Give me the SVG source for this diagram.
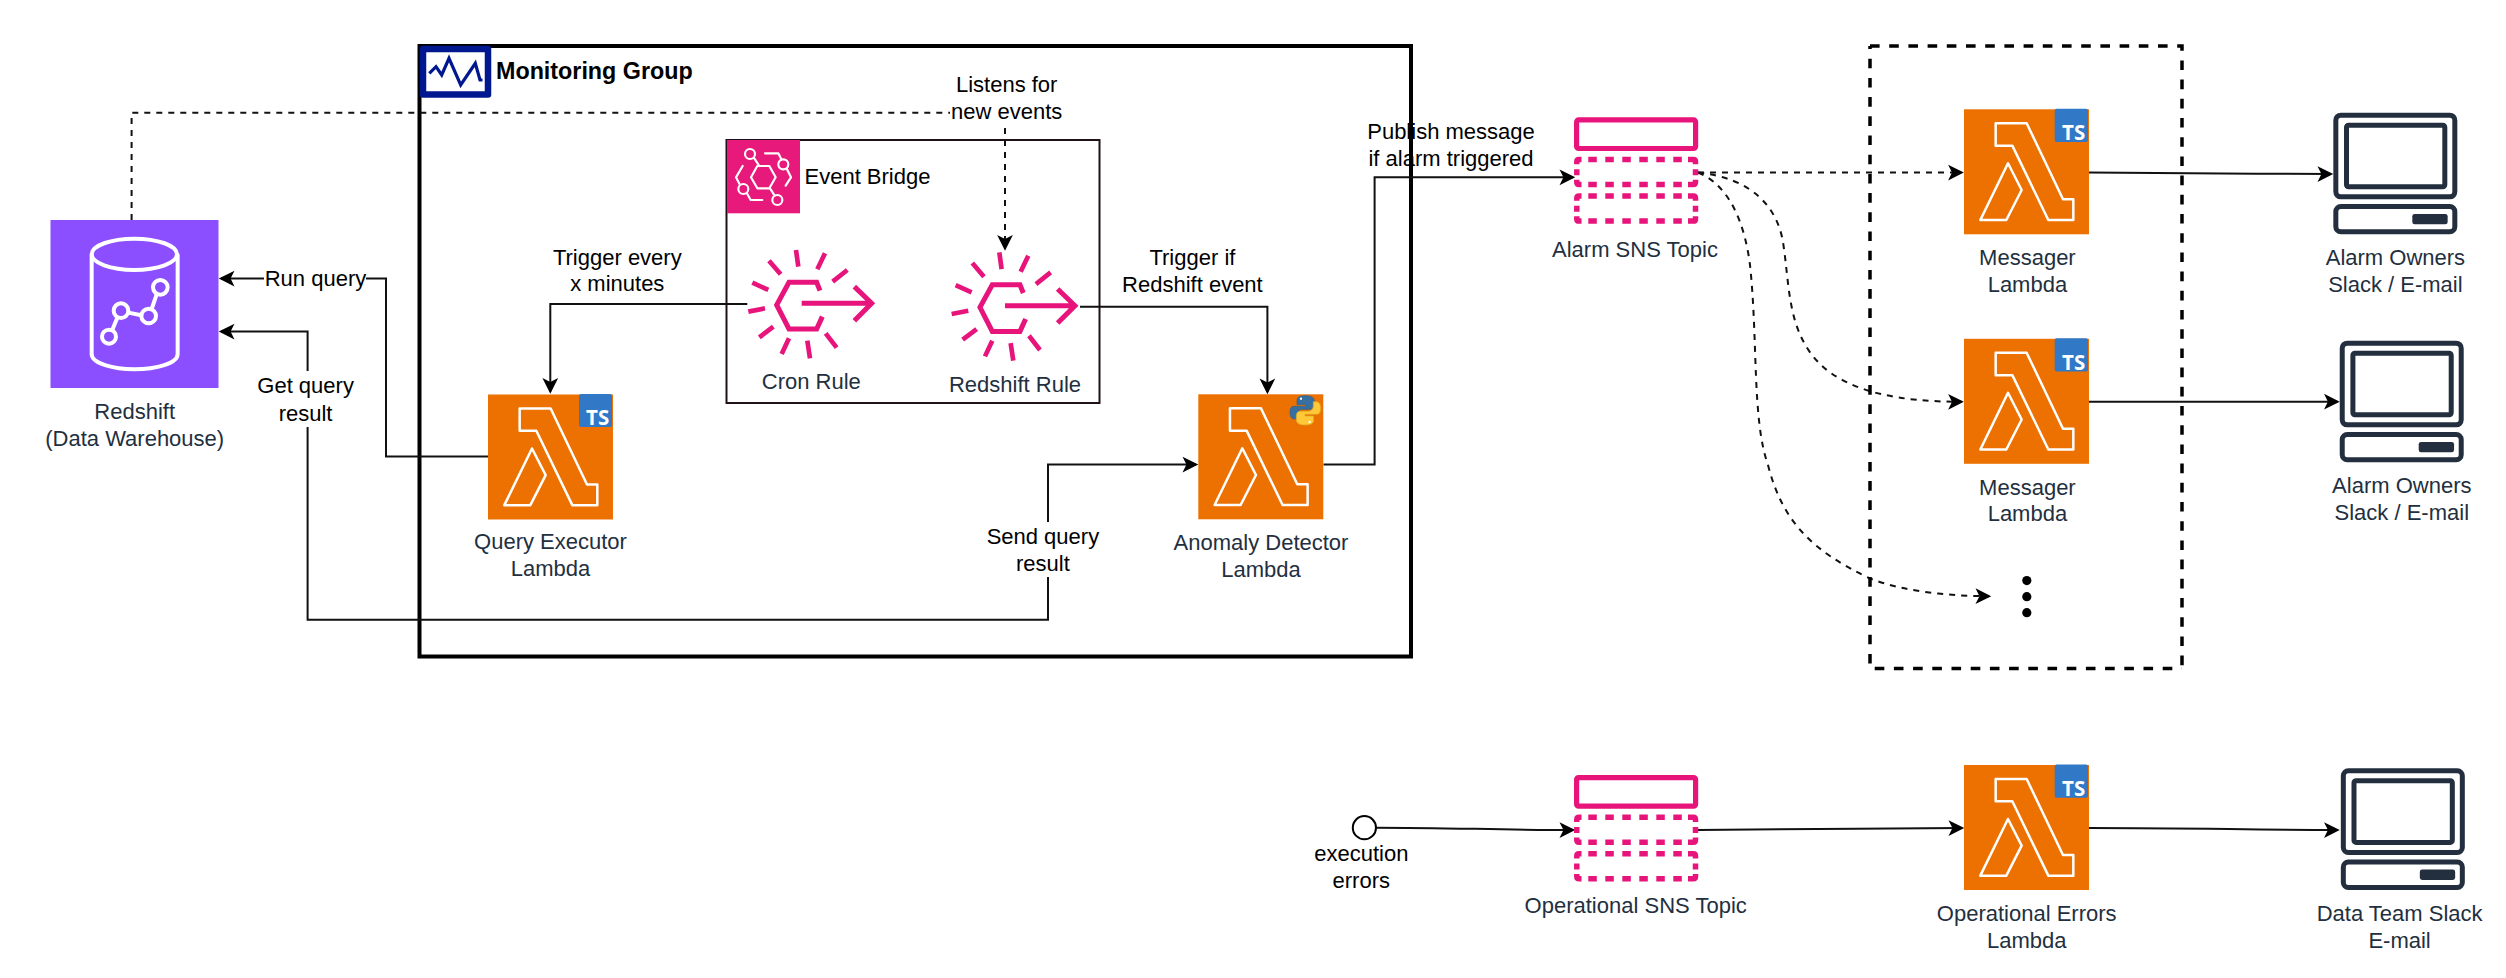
<svg xmlns="http://www.w3.org/2000/svg" xmlns:xlink="http://www.w3.org/1999/xlink" width="2506" height="978" viewBox="0 0 2506 978">
<style>
text{font-family:"Liberation Sans",Arial,sans-serif;font-size:22px;text-anchor:middle;fill:#000}
.n{fill:#232f3e}
.l{text-anchor:start}
.ts{font-family:"Open Sans",sans-serif;font-weight:700;font-size:20.5px;fill:#fff}
.e{fill:none;stroke:#111;stroke-width:2}
.d{stroke-dasharray:6 6}
.a{marker-end:url(#arr)}
.pk{fill:none;stroke:#e7157b}
.wh{fill:none;stroke:#fff;stroke-linejoin:round;stroke-linecap:round}
.dk{fill:none;stroke:#232f3e;stroke-width:15}
.bg{fill:#fff}
.bx{fill:none;stroke:#000;stroke-width:3.5;stroke-dasharray:9.6 9.6}
</style>
<defs>
<marker id="arr" markerUnits="userSpaceOnUse" markerWidth="18" markerHeight="18" viewBox="0 0 16 16" refX="13" refY="8" orient="auto-start-reverse">
<path d="M1 1L15 8L1 15L4.5 8Z" fill="#000"/>
</marker>
<g id="lambda">
<rect width="375" height="375" fill="#ed7100"/>
<path class="wh" stroke-width="7.5" d="M95 42H188L297 270H328V332H253L145 109H95ZM132 162L173 242L127 332H49Z"/>
</g>
<g id="rule" class="pk" stroke-width="14">
<path d="M300 482L290 457H207L170 525L207 597H290L307 560" stroke-width="15"/>
<path d="M245 520H450M403 470L455 520L403 572" stroke-width="15"/>
<path d="M228 360L235 410M315 370L292 418M382 420L338 455M147 392L182 433M97 458L145 480M85 545L135 535M118 622L160 590M207 625L185 672M262 632L270 685M317 610L350 653"/>
</g>
<g id="dashbox" fill="none" stroke="#e7157b" stroke-width="5.5">
<path d="M14.3 2.8H108" stroke-dasharray="8.5 8.5"/>
<path d="M14.3 27.8H108" stroke-dasharray="8.5 8.5"/>
<path d="M2.8 12.5V18.5M121.5 12.5V18.5"/>
<path d="M2.8 7.5V5Q2.8 2.8 5 2.8H7.5M114 2.8H119.3Q121.5 2.8 121.5 5V7.5M2.8 23V25.6Q2.8 27.8 5 27.8H7.5M114 27.8H119.3Q121.5 27.8 121.5 25.6V23"/>
</g>
<g id="topic">
<rect x="2.6" y="2.6" width="119" height="28.6" rx="2" class="pk" stroke-width="5.2"/>
<use href="#dashbox" y="39.4"/>
<use href="#dashbox" y="76"/>
</g>
<g id="computer">
<rect x="77.5" y="45.5" width="357" height="245" rx="15" class="dk"/>
<rect x="109.5" y="75.5" width="295" height="185" rx="6" class="dk"/>
<rect x="77.5" y="319.5" width="357" height="76" rx="15" class="dk"/>
<rect x="307" y="342" width="106" height="31" rx="7" fill="#232f3e"/>
</g>
</defs>
<rect width="2506" height="978" fill="#fff"/>

<g id="monitoring-group">
<rect x="419.5" y="46" width="991.5" height="610.5" fill="none" stroke="#000" stroke-width="4"/>
<rect x="423" y="49" width="65" height="45.5" fill="#fff" stroke="#00188f" stroke-width="6.5" stroke-linejoin="round"/>
<path d="M429.3 73.3L436 66.7L441.7 75L449 58.3L460.7 85L475.3 63.3L480 80H482.5" fill="none" stroke="#00188f" stroke-width="3.2"/>
<text class="l" x="496" y="79" style="font-size:23.3px;font-weight:700">Monitoring Group</text>
</g>

<g id="event-bridge">
<rect x="726.5" y="140" width="373" height="263" fill="none" stroke="#201018" stroke-width="2"/>
<rect x="727" y="140" width="73" height="73.3" fill="#e7197b"/>
<g transform="translate(720 130) scale(.3333)" class="wh" stroke-width="6.5">
<path d="M93 142L112 108H148L167 142L148 175H112ZM103 85L118 108M150 175L164 197M135 70H175L184 88M201 118L213 142L197 167M68 108L48 142L59 163M82 192L92 210H127"/>
<circle cx="90" cy="72" r="15"/><circle cx="190" cy="103" r="15"/><circle cx="70" cy="177" r="15"/><circle cx="172" cy="210" r="15"/>
</g>
<text class="l" x="804.5" y="184">Event Bridge</text>
</g>

<g id="connectors">
<path class="e d a" d="M131.6 220V112.7H1005V248.5"/>
<path class="e a" d="M488 456.5H386V278.5H221"/>
<path class="e a" style="marker-start:url(#arr)" d="M221 331.5H307.6V619.7H1048V464.5H1196"/>
<path class="e a" d="M747.3 304H550.3V391.6"/>
<path class="e a" d="M1080 306.7H1267.4V392"/>
<path class="e a" d="M1323.5 464.5H1374.6V177.3H1573"/>
<path class="e d a" d="M1698 172.6H1961.6"/>
<path class="e d a" d="M1698 172.6C1752 178 1777 207 1783 242C1790 287 1787 332 1821 365C1850 392 1900 402 1961.6 401.7"/>
<path class="e d a" d="M1698 172.6C1730 185 1745 225 1750 265C1758 340 1752 420 1768 465C1782 520 1810 550 1870 578.5C1905 592 1950 596 1989 596.2"/>
<path class="e a" d="M2089 172.6C2200 172.6 2250 174 2331 174"/>
<path class="e a" d="M2089 401.7H2337.5"/>
<path class="e a" d="M1376 827.7C1450 827.7 1500 830 1573 830"/>
<path class="e a" d="M1698 830C1800 830 1870 828 1962 828"/>
<path class="e a" d="M2089 828C2200 828 2250 830 2337.5 830"/>
</g>

<g id="edge-labels">
<rect class="bg" x="264" y="266" width="102" height="27"/>
<text x="315.5" y="286">Run query</text>
<rect class="bg" x="255" y="371" width="102" height="56"/>
<text x="305.6" y="393.4">Get query</text><text x="305.6" y="420.7">result</text>
<rect class="bg" x="985" y="522" width="116" height="55"/>
<text x="1042.9" y="543.7">Send query</text><text x="1042.9" y="570.6">result</text>
<rect class="bg" x="950" y="72" width="113" height="54"/>
<text x="1006.7" y="92.3">Listens for</text><text x="1006.7" y="119">new events</text>
<text x="617.3" y="264.5">Trigger every</text><text x="617.3" y="291.2">x minutes</text>
<text x="1192.4" y="264.5">Trigger if</text><text x="1192.4" y="292">Redshift event</text>
<text x="1451" y="139">Publish message</text><text x="1451" y="166">if alarm triggered</text>
</g>

<g id="redshift">
<rect x="50.5" y="220" width="168" height="168" fill="#8c4fff"/>
<g transform="translate(40 210) scale(.3333)" class="wh" stroke-width="12">
<ellipse cx="283" cy="133" rx="128" ry="47"/>
<path d="M155 135V432C155 460 220 478 283 478C350 478 413 460 413 432V135"/>
<circle cx="207" cy="380" r="21"/><circle cx="243" cy="302" r="22"/><circle cx="326" cy="318" r="22"/><circle cx="361" cy="232" r="22"/>
<path d="M218 357L232 323M265 308L304 316M335 297L350 253"/>
</g>
<text class="n" x="134.7" y="419.4">Redshift</text><text class="n" x="134.7" y="446">(Data Warehouse)</text>
</g>

<g id="query-executor">
<use href="#lambda" transform="translate(488 394.5) scale(.3333)"/>
<rect x="579" y="393.9" width="33" height="33" rx="2" fill="#3178c6"/>
<text class="ts" x="597.7" y="425.2">TS</text>
<text class="n" x="550.5" y="548.5">Query Executor</text><text class="n" x="550.5" y="575.5">Lambda</text>
</g>

<g id="cron-rule">
<use href="#rule" transform="translate(720 130) scale(.3333)"/>
<text class="n" x="811.3" y="389.3">Cron Rule</text>
</g>
<g id="redshift-rule">
<use href="#rule" transform="translate(923.3 132.4) scale(.3333)"/>
<text class="n" x="1015" y="392">Redshift Rule</text>
</g>

<g id="anomaly-detector">
<use href="#lambda" transform="translate(1198.3 394.3) scale(.3333)"/>
<g transform="translate(1180 370) scale(.3333)">
<path d="M376 77C352 77 351 86 351 94V104H377V109H342C332 109 330 118 330 128C330 138 334 147 343 147H352V134C352 124 360 118 368 118H392C399 118 403 112 403 105V93C403 84 396 77 376 77Z" fill="#366fa0" stroke="#2f6490" stroke-width="2"/>
<path d="M376 165C400 165 401 156 401 148V138H375V133H410C420 133 422 124 422 114C422 104 418 95 409 95H400V108C400 118 392 124 384 124H360C353 124 349 130 349 137V149C349 158 356 165 376 165Z" fill="#ffc836" stroke="#d9a92a" stroke-width="2"/>
<circle cx="363" cy="86" r="3.5" fill="#fff"/><circle cx="389" cy="156" r="3.5" fill="#fff"/>
</g>
<text class="n" x="1261" y="550">Anomaly Detector</text><text class="n" x="1261" y="577">Lambda</text>
</g>

<g id="alarm-sns-topic">
<use href="#topic" transform="translate(1574 117.3)"/>
<text class="n" x="1635" y="257">Alarm SNS Topic</text>
</g>

<g id="messager-group">
<path class="bx" d="M1870 46H2182V668.4"/>
<path class="bx" stroke-dashoffset="6.5" d="M1870 46V668.4H2182"/>
</g>

<g id="messager-1">
<use href="#lambda" transform="translate(1964 109.3) scale(.3333)"/>
<rect x="2054.7" y="108.7" width="33.3" height="33.3" rx="2" fill="#3178c6"/>
<text class="ts" x="2073.7" y="140">TS</text>
<text class="n" x="2027.4" y="264.5">Messager</text><text class="n" x="2027.4" y="292">Lambda</text>
</g>
<g id="messager-2">
<use href="#lambda" transform="translate(1964 338.8) scale(.3333)"/>
<rect x="2054.7" y="338.2" width="33.3" height="33.3" rx="2" fill="#3178c6"/>
<text class="ts" x="2073.7" y="369.5">TS</text>
<text class="n" x="2027.4" y="494.5">Messager</text><text class="n" x="2027.4" y="521.3">Lambda</text>
</g>
<g id="more-dots" fill="#000">
<circle cx="2026.8" cy="580.6" r="4.6"/><circle cx="2026.8" cy="596.7" r="4.6"/><circle cx="2026.8" cy="612.7" r="4.6"/>
</g>

<g id="alarm-owners-1">
<use href="#computer" transform="translate(2310 100) scale(.3333)"/>
<text class="n" x="2395.4" y="264.5">Alarm Owners</text><text class="n" x="2395.4" y="292">Slack / E-mail</text>
</g>
<g id="alarm-owners-2">
<use href="#computer" transform="translate(2316.4 328) scale(.3333)"/>
<text class="n" x="2401.8" y="492.5">Alarm Owners</text><text class="n" x="2401.8" y="520">Slack / E-mail</text>
</g>

<g id="execution-errors">
<circle cx="1364.4" cy="827.7" r="11.6" fill="#fff" stroke="#000" stroke-width="2"/>
<text x="1361.3" y="860.7">execution</text><text x="1361.3" y="888">errors</text>
</g>
<g id="operational-sns-topic">
<use href="#topic" transform="translate(1574 775)"/>
<text class="n" x="1635.7" y="913">Operational SNS Topic</text>
</g>
<g id="operational-errors">
<use href="#lambda" transform="translate(1964 765) scale(.3333)"/>
<rect x="2054.7" y="764.4" width="33.3" height="33.3" rx="2" fill="#3178c6"/>
<text class="ts" x="2073.7" y="795.7">TS</text>
<text class="n" x="2026.7" y="920.7">Operational Errors</text><text class="n" x="2026.7" y="948">Lambda</text>
</g>
<g id="data-team">
<use href="#computer" transform="translate(2317.5 755.6) scale(.3333)"/>
<text class="n" x="2399.6" y="920.7">Data Team Slack</text><text class="n" x="2399.6" y="948">E-mail</text>
</g>
</svg>
